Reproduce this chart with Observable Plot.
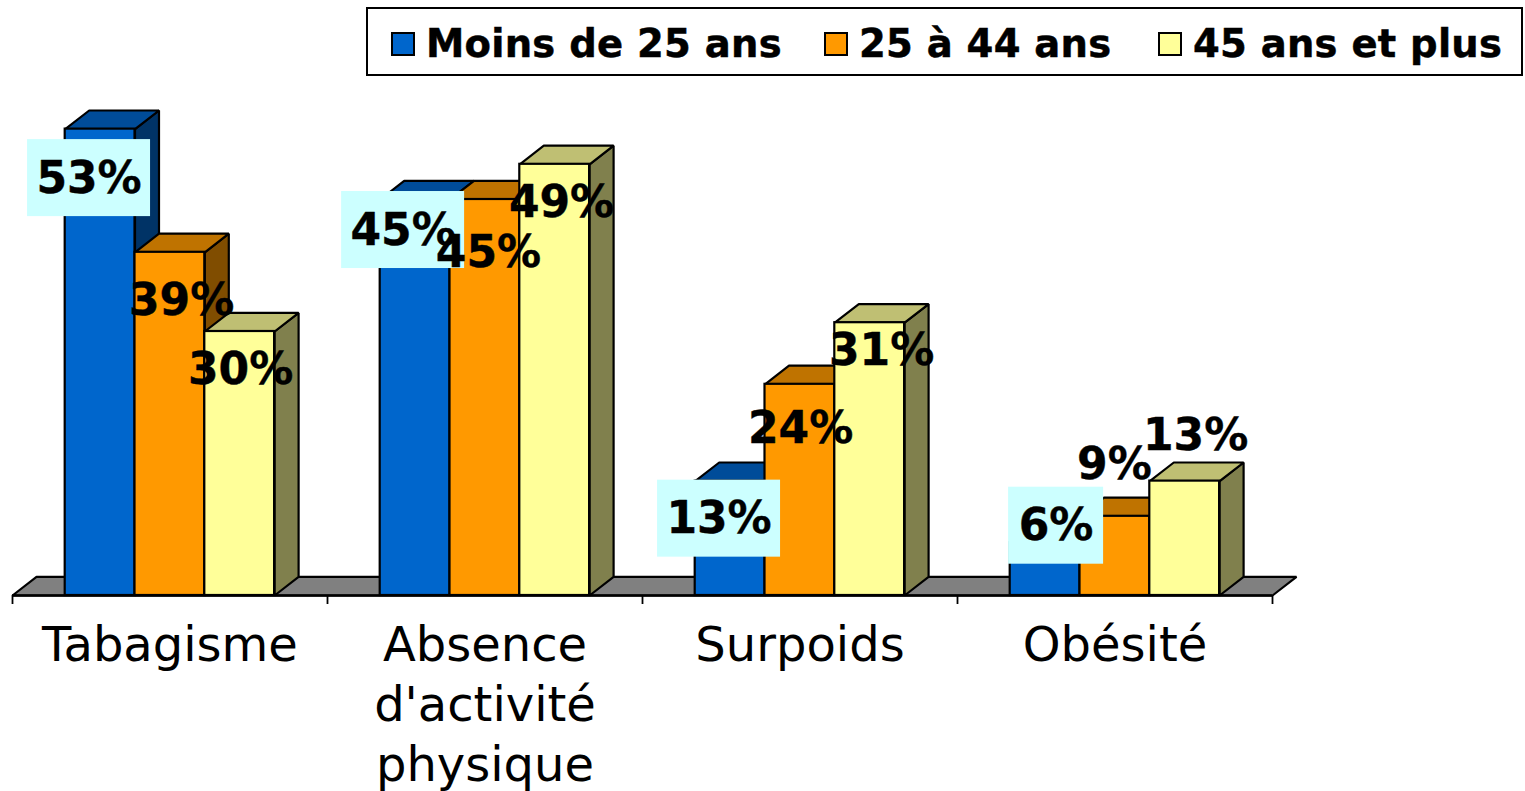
<!DOCTYPE html>
<html lang="fr">
<head>
<meta charset="utf-8">
<script src="https://cdn.jsdelivr.net/npm/d3@7"></script>
<script src="https://cdn.jsdelivr.net/npm/@observablehq/plot@0.6"></script>
<style>
html,body{margin:0;padding:0;background:#fff;overflow:hidden}
body{font-family:"DejaVu Sans",sans-serif;width:1525px;height:791px}
#legendRow{position:relative;height:84px}
#legend{position:absolute;left:366px;top:7px;width:1153px;height:65px;border:2px solid #000;box-sizing:content-box}
#legend .sw{position:absolute;top:23px;width:20px;height:20px;border:2px solid #000;box-sizing:content-box}
#legend .lb{position:absolute;top:0;line-height:70px;font-weight:bold;font-size:38.5px;letter-spacing:.25px;-webkit-text-stroke:.5px #000;white-space:nowrap;color:#000}
svg{display:block}
</style>
</head>
<body>
<div id="legendRow"><div id="legend"></div></div>
<div id="chart"></div>
<script>
const categories = ["Tabagisme", "Absence\nd'activité\nphysique", "Surpoids", "Obésité"];
const seriesNames = ["Moins de 25 ans", "25 à 44 ans", "45 ans et plus"];
const moins25 = [53, 45, 13, 6];
const de25a44 = [39, 45, 24, 9];
const plus45 = [30, 49, 31, 13];
const frontColors = ["#0066CC", "#FF9900", "#FFFF99"];
const topColors = ["#004C99", "#BF7300", "#BFBF73"];
const sideColors = ["#003366", "#804D00", "#80804D"];
// hand-placed data labels, in chart units (category position, percent)
const labelX = [[0.243,1.240,2.243,3.313],[0.537,1.511,2.502,3.498],[0.724,1.743,2.759,3.756]];
const labelY = [[47.5,41.6,8.8,8.0],[33.6,39.0,19.0,15.0],[25.8,44.7,27.9,18.3]];

const values = [moins25, de25a44, plus45];
const pxX = 315, pxY = 8.8;           // px per category, px per percent
const depthX = 24 / pxX, depthY = 18.6 / pxY;
const groupPad = 52.7 / pxX, barW = 69.8 / pxX;
const chartH = 707, base = 511;

const bars = values.flatMap((vals, s) => vals.map((v, i) => ({
  s, i, v,
  x1: i + groupPad + s * barW,
  x2: i + groupPad + (s + 1) * barW,
  label: v + "%",
  lx: labelX[s][i],
  ly: labelY[s][i]
})));

const faces = [];
const addFace = (id, fill, pts) => pts.forEach(([x, y]) => faces.push({id, fill, x, y}));
addFace("floor", "#808080", [[0,0],[depthX,depthY],[4+depthX,depthY],[4,0]]);
for (const b of bars) {
  addFace(`side${b.s}-${b.i}`, sideColors[b.s], [[b.x2,0],[b.x2+depthX,depthY],[b.x2+depthX,b.v+depthY],[b.x2,b.v]]);
  addFace(`top${b.s}-${b.i}`, topColors[b.s], [[b.x1,b.v],[b.x1+depthX,b.v+depthY],[b.x2+depthX,b.v+depthY],[b.x2,b.v]]);
}
const boxed = bars.filter(b => b.s === 0);
const boxHalfW = b => (b.label.length > 2 ? 61.5 : 47.5) / pxX;
const boxHalfH = 38.5 / pxY;

const chart = Plot.plot({
  width: 1525,
  height: chartH,
  marginLeft: 12,
  marginRight: 253,
  marginTop: 0,
  marginBottom: chartH - base,
  x: {type: "linear", domain: [0, 4], axis: null},
  y: {type: "linear", domain: [0, base / pxY], axis: null},
  style: {background: "transparent", fontFamily: "'DejaVu Sans', sans-serif", overflow: "visible"},
  marks: [
    Plot.line(faces, {x: "x", y: "y", z: "id", fill: d => d.fill, stroke: "#000", strokeWidth: 2.2, curve: "linear-closed", strokeLinejoin: "miter"}),
    Plot.rect(bars, {x1: "x1", x2: "x2", y1: 0, y2: "v", fill: d => frontColors[d.s], stroke: "#000", strokeWidth: 2.2}),
    Plot.ruleY([0], {x1: 0, x2: 4, stroke: "#000", strokeWidth: 2.6}),
    Plot.axisX({ticks: [0, 1, 2, 3, 4], tickSize: 9, fill: "none", stroke: "#000", strokeWidth: 1.8, label: null}),
    Plot.axisX({ticks: [0.5, 1.5, 2.5, 3.5], tickSize: 0, tickPadding: 22.5, tickFormat: d => categories[d - 0.5], fontSize: 48, lineHeight: 1.25, fill: "#000", label: null}),
    Plot.rect(boxed, {x1: d => d.lx - boxHalfW(d), x2: d => d.lx + boxHalfW(d), y1: d => d.ly - boxHalfH, y2: d => d.ly + boxHalfH, fill: "#CCFFFF", dy: 0.6}),
    Plot.text(bars, {x: "lx", y: "ly", text: "label", fontSize: 44, fontWeight: "bold", fill: "#000", dy: 1, dx: 0, stroke: "#000", strokeWidth: 0.4})
  ]
});
document.getElementById("chart").append(chart);

const legend = document.getElementById("legend");
const swatchLeft = [23, 456, 790], textLeft = [58, 491, 825];
seriesNames.forEach((name, k) => {
  const sw = document.createElement("div");
  sw.className = "sw"; sw.style.left = swatchLeft[k] + "px"; sw.style.background = frontColors[k];
  const lb = document.createElement("div");
  lb.className = "lb"; lb.style.left = textLeft[k] + "px"; lb.textContent = name;
  legend.append(sw, lb);
});
</script>
</body>
</html>
